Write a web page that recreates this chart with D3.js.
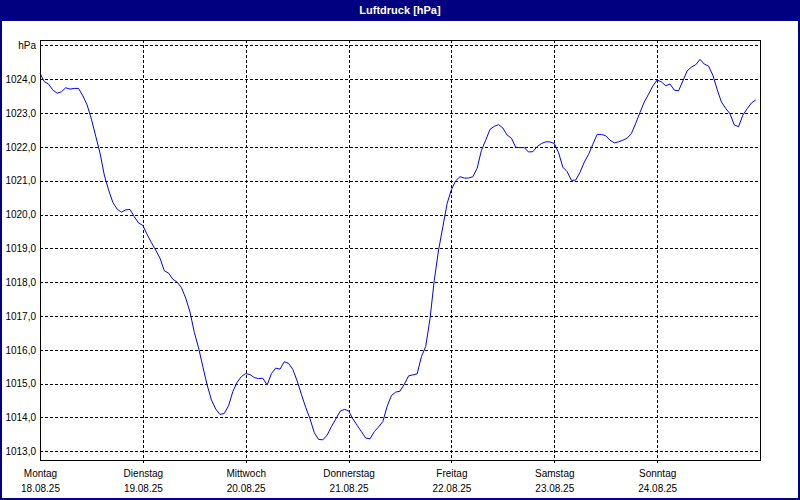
<!DOCTYPE html>
<html><head><meta charset="utf-8">
<script src="https://cdn.jsdelivr.net/npm/d3@7"></script>
<style>body{margin:0;background:#fff}svg{display:block}</style>
</head><body><svg id="c" width="800" height="500"></svg>
<script>
const title = "Luftdruck [hPa]";
const unitLabel = "hPa";
const startDate = new Date(2025, 7, 18, 0, 0);
const dayNames = ["Montag", "Dienstag", "Mittwoch", "Donnerstag", "Freitag", "Samstag", "Sonntag"];
const dayDates = ["18.08.25", "19.08.25", "20.08.25", "21.08.25", "22.08.25", "23.08.25", "24.08.25"];
const yTicks = [1013, 1014, 1015, 1016, 1017, 1018, 1019, 1020, 1021, 1022, 1023, 1024];
const unitTick = 1025;
// hourly values from Monday 18.08.25 00:00
const pressure = [
  1024.18, 1023.93, 1023.86, 1023.68, 1023.59, 1023.63, 1023.75, 1023.71, 1023.73, 1023.73,
  1023.51, 1023.24, 1022.82, 1022.32, 1021.82, 1021.17, 1020.73, 1020.36, 1020.16, 1020.07,
  1020.14, 1020.15, 1019.94, 1019.75, 1019.68, 1019.41, 1019.17, 1018.95, 1018.71, 1018.34,
  1018.27, 1018.09, 1018.00, 1017.84, 1017.53, 1017.12, 1016.52, 1016.06, 1015.50, 1014.96,
  1014.52, 1014.25, 1014.09, 1014.12, 1014.35, 1014.77, 1015.04, 1015.21, 1015.30, 1015.27,
  1015.18, 1015.15, 1015.16, 1014.96, 1015.30, 1015.46, 1015.43, 1015.65, 1015.60, 1015.42,
  1015.08, 1014.68, 1014.30, 1013.96, 1013.55, 1013.35, 1013.34, 1013.48, 1013.73, 1013.95,
  1014.18, 1014.24, 1014.20, 1013.96, 1013.77, 1013.58, 1013.39, 1013.37, 1013.58, 1013.72,
  1013.88, 1014.33, 1014.65, 1014.75, 1014.78, 1014.98, 1015.23, 1015.26, 1015.29, 1015.80,
  1016.10, 1016.92, 1018.06, 1018.95, 1019.64, 1020.33, 1020.74, 1021.00, 1021.12, 1021.08,
  1021.08, 1021.12, 1021.37, 1021.90, 1022.20, 1022.52, 1022.61, 1022.66, 1022.56, 1022.35,
  1022.26, 1021.99, 1021.98, 1021.98, 1021.85, 1021.86, 1022.01, 1022.10, 1022.15, 1022.15,
  1022.10, 1021.83, 1021.40, 1021.27, 1021.01, 1021.02, 1021.25, 1021.55, 1021.78, 1022.08,
  1022.37, 1022.37, 1022.33, 1022.20, 1022.12, 1022.15, 1022.20, 1022.26, 1022.40, 1022.70,
  1023.02, 1023.33, 1023.56, 1023.80, 1023.98, 1023.92, 1023.81, 1023.86, 1023.68, 1023.66,
  1023.95, 1024.25, 1024.36, 1024.43, 1024.59, 1024.45, 1024.39, 1024.12, 1023.70, 1023.33,
  1023.14, 1022.98, 1022.65, 1022.60, 1022.94, 1023.13, 1023.30, 1023.39
];

const W = 800, H = 500;
const m = {left: 40, right: 760, top: 40, bottom: 460};
const navy = "#000080";
const svg = d3.select("#c");

svg.append("rect").attr("x", 1).attr("y", 1).attr("width", W - 2).attr("height", H - 2)
  .attr("fill", "#fff").attr("stroke", navy).attr("stroke-width", 2);
svg.append("rect").attr("x", 0).attr("y", 0).attr("width", W).attr("height", 21).attr("fill", navy);
svg.append("text").attr("x", 400).attr("y", 14).attr("text-anchor", "middle")
  .attr("fill", "#fff").attr("font-family", "Liberation Sans, Arial, sans-serif")
  .attr("font-size", 11).attr("font-weight", "bold").text(title);

const hour = 3600e3;
const times = pressure.map((v, i) => new Date(startDate.getTime() + i * hour));
const dayTicks = dayNames.map((d, i) => new Date(startDate.getTime() + i * 24 * hour));
const x = d3.scaleTime()
  .domain([startDate, new Date(startDate.getTime() + 7 * 24 * hour)])
  .range([m.left, m.right]);
const y = d3.scaleLinear().domain([1012.743, 1025.162]).range([m.bottom, m.top]);

const font = "Liberation Sans, Arial, sans-serif";

// horizontal grid
const hg = svg.append("g").attr("transform", `translate(${m.left},0)`)
  .call(d3.axisLeft(y).tickValues(yTicks.concat([unitTick])).tickSize(-(m.right - m.left)).tickFormat(""));
hg.select(".domain").remove();
hg.selectAll("line").attr("stroke", "#000").attr("stroke-dasharray", "3,2").attr("shape-rendering", "crispEdges");

// vertical grid
const vg = svg.append("g").attr("transform", `translate(0,${m.bottom + 3})`)
  .call(d3.axisBottom(x).tickValues(dayTicks.slice(1)).tickSize(-(m.bottom + 3 - m.top)).tickFormat(""));
vg.select(".domain").remove();
vg.selectAll("line").attr("stroke", "#000").attr("stroke-dasharray", "3,2").attr("shape-rendering", "crispEdges");

// y labels
const yl = svg.append("g").attr("transform", `translate(${m.left},0)`)
  .call(d3.axisLeft(y).tickValues(yTicks.concat([unitTick])).tickSize(0).tickPadding(4)
    .tickFormat(d => d === unitTick ? unitLabel : d3.format(".1f")(d).replace(".", ",")));
yl.select(".domain").remove();
yl.selectAll("text").attr("font-family", font).attr("font-size", 10).attr("fill", "#000");

// x labels
const xl = svg.append("g").attr("transform", `translate(0,${m.bottom})`)
  .call(d3.axisBottom(x).tickValues(dayTicks).tickSize(0).tickFormat(""));
xl.select(".domain").remove();
xl.selectAll(".tick text").each(function(d, i) {
  const t = d3.select(this).attr("dy", null).attr("y", null)
    .attr("font-family", font).attr("font-size", 10).attr("fill", "#000");
  t.text(null);
  t.append("tspan").attr("x", 0).attr("y", 17).text(dayNames[i]);
  t.append("tspan").attr("x", 0).attr("y", 32).text(dayDates[i]);
});

// line
const line = d3.line().x((d, i) => x(times[i])).y(d => y(d));
svg.append("path").datum(pressure).attr("d", line)
  .attr("fill", "none").attr("stroke", "#0000ff").attr("stroke-width", 1);

// frame
svg.append("rect").attr("x", m.left + 0.5).attr("y", m.top + 0.5)
  .attr("width", m.right - m.left).attr("height", m.bottom - m.top)
  .attr("fill", "none").attr("stroke", "#000").attr("stroke-width", 1);
</script></body></html>
